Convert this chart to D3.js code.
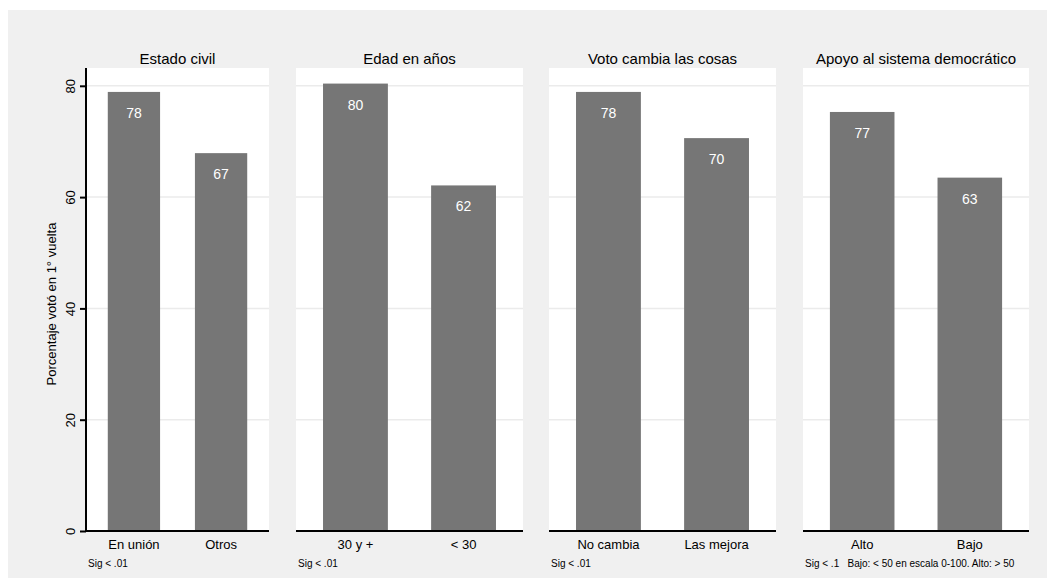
<!DOCTYPE html>
<html>
<head>
<meta charset="utf-8">
<script src="https://cdn.jsdelivr.net/npm/d3@7"></script>
<style>
  html, body { margin: 0; padding: 0; background: #fff; }
  svg { display: block; font-family: 'Liberation Sans', Arial, Helvetica, sans-serif; }
</style>
</head>
<body>
<svg id="chart"></svg>
<script>
// Data
const panelTitles = ['Estado civil', 'Edad en años', 'Voto cambia las cosas', 'Apoyo al sistema democrático'];
const categories = [
  ['En unión', 'Otros'],
  ['30 y +', '< 30'],
  ['No cambia', 'Las mejora'],
  ['Alto', 'Bajo']
];
const values = [
  [78.9, 67.9],
  [80.4, 62.1],
  [78.9, 70.6],
  [75.3, 63.5]
];
const valueLabels = [
  ['78', '67'],
  ['80', '62'],
  ['78', '70'],
  ['77', '63']
];
const notes = ['Sig < .01', 'Sig < .01', 'Sig < .01', 'Sig < .1   Bajo: < 50 en escala 0-100. Alto: > 50'];
const yTicks = [0, 20, 40, 60, 80];
const yTitle = 'Porcentaje votó en 1° vuelta';

const width = 1047, height = 578;
// plot regions of the four panels (x extents), shared y extent
const panelX = [[86, 269], [296, 523], [549, 776], [803, 1029]];
const plotTop = 68, plotBottom = 531;

const svg = d3.select('#chart')
  .attr('width', width)
  .attr('height', height)
  .attr('viewBox', `0 0 ${width} ${height}`);

// Outer background
svg.append('rect')
  .attr('x', 8).attr('y', 10)
  .attr('width', width - 8).attr('height', height - 10)
  .attr('fill', '#f0f0f0');

const y = d3.scaleLinear()
  .domain([0, 83.2])
  .range([plotBottom, plotTop]);

panelTitles.forEach((title, i) => {
  const [x0, x1] = panelX[i];
  const g = svg.append('g');

  // White plot region
  g.append('rect')
    .attr('x', x0).attr('y', plotTop)
    .attr('width', x1 - x0).attr('height', plotBottom - plotTop)
    .attr('fill', '#fff');

  // Gridlines
  g.selectAll('.grid')
    .data(yTicks.filter(d => d > 0))
    .join('line')
    .attr('class', 'grid')
    .attr('x1', x0).attr('x2', x1)
    .attr('y1', d => y(d)).attr('y2', d => y(d))
    .attr('stroke', '#ebebeb')
    .attr('stroke-width', 1.5);

  const x = d3.scaleBand()
    .domain(categories[i])
    .range([x0, x1])
    .paddingInner(0.4)
    .paddingOuter(0.25);

  const rows = categories[i].map((c, j) => ({ c, v: values[i][j], lab: valueLabels[i][j] }));

  // Bars
  g.selectAll('.bar')
    .data(rows)
    .join('rect')
    .attr('class', 'bar')
    .attr('x', d => x(d.c))
    .attr('y', d => y(d.v))
    .attr('width', x.bandwidth())
    .attr('height', d => y(0) - y(d.v))
    .attr('fill', '#767676');

  // Value labels inside bars
  g.selectAll('.val')
    .data(rows)
    .join('text')
    .attr('class', 'val')
    .attr('x', d => x(d.c) + x.bandwidth() / 2)
    .attr('y', d => y(d.v) + 26)
    .attr('text-anchor', 'middle')
    .attr('font-size', '14px')
    .attr('fill', '#fff')
    .text(d => d.lab);

  // Bottom axis
  const xAxis = g.append('g')
    .attr('transform', `translate(0,${plotBottom})`)
    .call(d3.axisBottom(x).tickSize(0).tickPadding(9));
  xAxis.select('.domain')
    .attr('d', `M${x0},0H${x1}`)
    .attr('stroke', '#000')
    .attr('stroke-width', 2);
  xAxis.selectAll('text')
    .attr('font-size', '13px')
    .attr('font-family', null)
    .attr('fill', '#000');

  // Panel title
  g.append('text')
    .attr('x', (x0 + x1) / 2)
    .attr('y', 64)
    .attr('text-anchor', 'middle')
    .attr('font-size', '15px')
    .attr('fill', '#000')
    .text(title);

  // Note under panel
  g.append('text')
    .attr('x', x0 + 2)
    .attr('y', 567)
    .attr('font-size', '10px')
    .style('white-space', 'pre')
    .attr('fill', '#000')
    .text(notes[i]);
});

// Y axis on the first panel
const yAxis = svg.append('g')
  .attr('transform', `translate(${panelX[0][0]},0)`)
  .call(d3.axisLeft(y).tickValues(yTicks).tickSize(6).tickPadding(6));
yAxis.select('.domain')
  .attr('d', `M0,${plotTop}V${plotBottom}`)
  .attr('stroke', '#000')
  .attr('stroke-width', 2);
yAxis.selectAll('.tick line')
  .attr('stroke', '#000')
  .attr('stroke-width', 2);
yAxis.selectAll('.tick text')
  .attr('font-size', '13px')
  .attr('font-family', null)
  .attr('fill', '#000')
  .attr('transform', 'rotate(-90)')
  .attr('x', 0)
  .attr('y', -16)
  .attr('dy', '0.35em')
  .attr('text-anchor', 'middle');

// Y axis title
svg.append('text')
  .attr('transform', `translate(56,304) rotate(-90)`)
  .attr('text-anchor', 'middle')
  .attr('font-size', '13px')
  .attr('fill', '#000')
  .text(yTitle);
</script>
</body>
</html>
